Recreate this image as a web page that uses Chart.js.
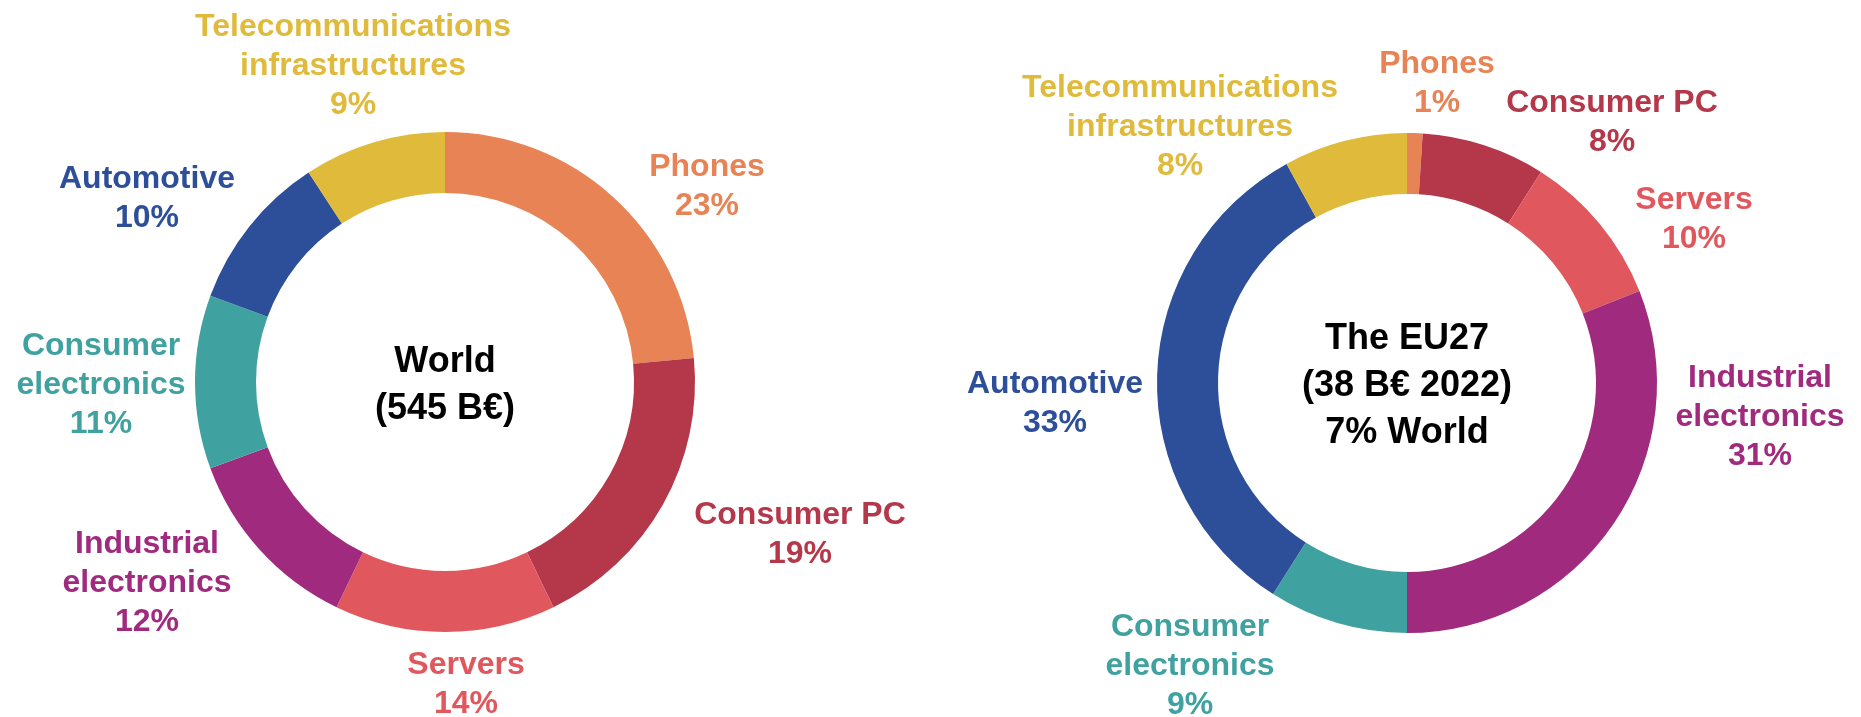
<!DOCTYPE html>
<html>
<head>
<meta charset="utf-8">
<title>Semiconductor market by application</title>
<script src="https://cdn.jsdelivr.net/npm/chart.js@4.4.1/dist/chart.umd.min.js"></script>
<style>
  html, body { margin: 0; background: #fff; }
  #wrap { position: relative; width: 1861px; height: 717px; overflow: hidden; }
  #wrap canvas { position: absolute; left: 0; top: 0; }
</style>
</head>
<body>
<div id="wrap">
  <canvas id="worldChart" width="1861" height="717"></canvas>
  <canvas id="euChart" width="1861" height="717"></canvas>
</div>
<script>
// segment names, split the way they are printed
const categoryLines = [
  ['Phones'],
  ['Consumer PC'],
  ['Servers'],
  ['Industrial', 'electronics'],
  ['Consumer', 'electronics'],
  ['Automotive'],
  ['Telecommunications', 'infrastructures']
]
const categories = categoryLines.map(l => l.join(' '))

// market share in %
const worldShares = [23, 19, 14, 12, 11, 10, 9]
const eu27Shares = [1, 8, 10, 31, 9, 33, 8]

const worldCenter = ['World', '(545 B€)']
const eu27Center = ['The EU27', '(38 B€ 2022)', '7% World']

const palette = ['#E78354', '#B4384A', '#E0585E', '#A02A7E', '#40A2A0', '#2D4F99', '#E0BA3A']

// where each label block sits, relative to the ring centre
const worldLabelOffsets = [[262, -198], [355, 150], [21, 300], [-298, 198], [-344, 0], [-298, -186], [-92, -319]]
const eu27LabelOffsets = [[30, -302], [205, -263], [287, -166], [353, 31], [-217, 280], [-352, 18], [-227, -259]]

const FONT = '"Liberation Sans", Arial, Helvetica, sans-serif'

function drawBlock(ctx, lines, x, y, size, lineH, cap) {
  let base = y - ((lines.length - 1) * lineH - cap) / 2
  lines.forEach(t => {
    ctx.fillText(t, x, base)
    base += lineH
  })
}

const ringLabels = {
  id: 'ringLabels',
  afterDatasetsDraw(chart, args, opts) {
    const ctx = chart.ctx
    const meta = chart.getDatasetMeta(0)
    const values = chart.data.datasets[0].data
    ctx.save()
    ctx.textAlign = 'center'
    ctx.textBaseline = 'alphabetic'

    ctx.font = `bold 32px ${FONT}`
    meta.data.forEach((arc, i) => {
      const [dx, dy] = opts.offsets[i]
      ctx.fillStyle = palette[i]
      drawBlock(ctx, [...categoryLines[i], values[i] + '%'], arc.x + dx, arc.y + dy, 32, 39, 23)
    })

    const first = meta.data[0]
    ctx.font = `bold 36px ${FONT}`
    ctx.fillStyle = '#000'
    drawBlock(ctx, opts.center, first.x, first.y, 36, 47, 26)
    ctx.restore()
  }
}

function makeRing(id, shares, padding, offsets, center) {
  return new Chart(document.getElementById(id), {
    type: 'doughnut',
    data: {
      labels: categories,
      datasets: [{ data: shares, backgroundColor: palette, borderWidth: 0 }]
    },
    options: {
      responsive: false,
      animation: false,
      events: [],
      cutout: '75.6%',
      layout: { padding },
      plugins: {
        legend: { display: false },
        tooltip: { enabled: false },
        ringLabels: { offsets, center }
      }
    },
    plugins: [ringLabels]
  })
}

makeRing('worldChart', worldShares, { left: 195, top: 132, right: 1166, bottom: 85 }, worldLabelOffsets, worldCenter)
makeRing('euChart', eu27Shares, { left: 1157, top: 133, right: 204, bottom: 84 }, eu27LabelOffsets, eu27Center)
</script>
</body>
</html>
